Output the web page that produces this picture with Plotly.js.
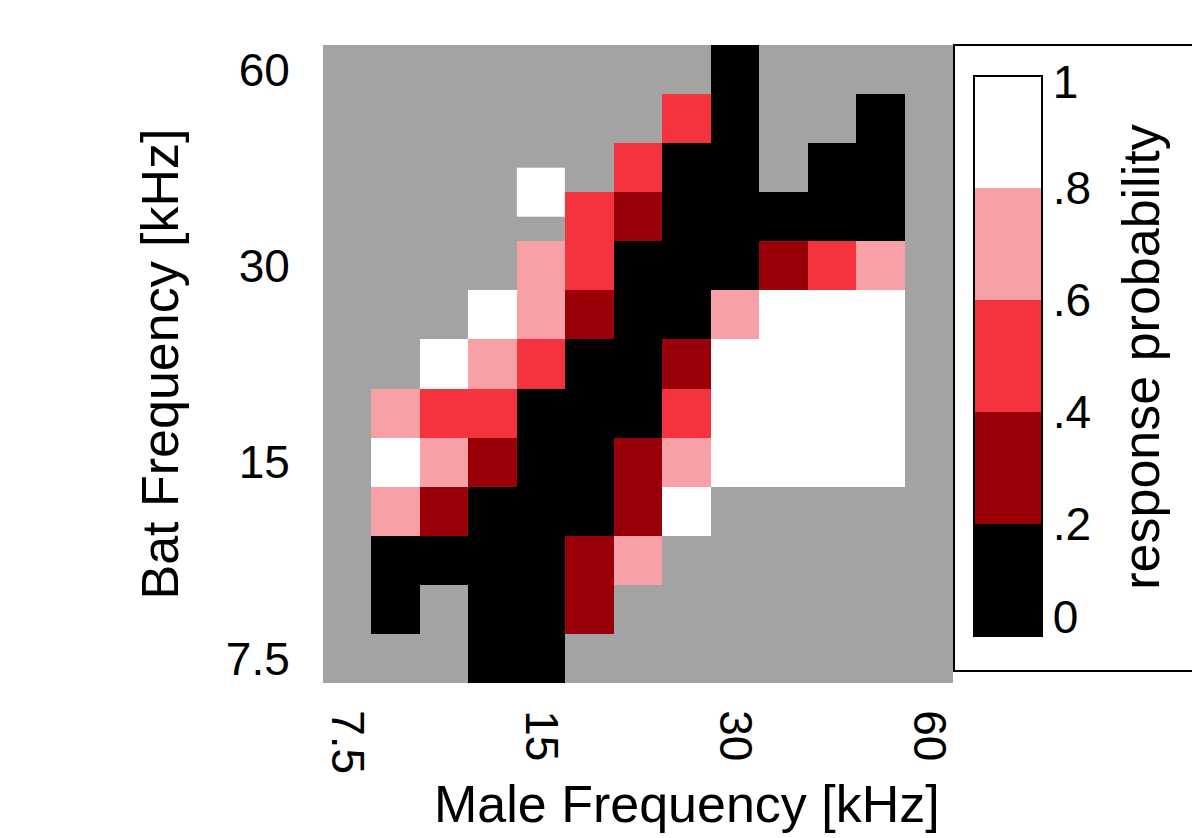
<!DOCTYPE html>
<html>
<head>
<meta charset="utf-8">
<script src="https://cdn.plot.ly/plotly-3.0.1.min.js"></script>
<style>html,body{margin:0;padding:0;background:#fff;}#chart{width:1192px;height:838px;}</style>
</head>
<body>
<div id="chart"></div>
<script>
// quarter-octave frequency bins (index 0 = 7.5 kHz, 4 = 15, 8 = 30, 12 = 60)
const maleBins = [0,1,2,3,4,5,6,7,8,9,10,11,12];
const batBins  = [0,1,2,3,4,5,6,7,8,9,10,11,12];
const xTickVals = [0,4,8,12];
const xTickText = ['7.5','15','30','60'];
const yTickVals = [0,4,8,12];
const yTickText = ['7.5','15','30','60'];
const n = null;
// response probability, rows = bat frequency bins (bottom -> top), columns = male frequency bins
const responseProb = [
  [n,   n,   n,   0.08,0.05,n,   n,   n,   n,   n,   n,   n,   n],
  [n,   0.12,n,   0.10,0.06,0.31,n,   n,   n,   n,   n,   n,   n],
  [n,   0.15,0.10,0.07,0.04,0.28,0.72,n,   n,   n,   n,   n,   n],
  [n,   0.70,0.33,0.09,0.05,0.06,0.30,0.92,n,   n,   n,   n,   n],
  [n,   0.95,0.68,0.35,0.11,0.07,0.27,0.74,0.96,0.97,0.95,0.93,n],
  [n,   0.66,0.52,0.47,0.13,0.04,0.08,0.55,0.98,0.96,0.94,0.95,n],
  [n,   n,   0.88,0.71,0.49,0.12,0.05,0.32,0.97,0.95,0.96,0.92,n],
  [n,   n,   n,   0.90,0.69,0.36,0.06,0.09,0.67,0.93,0.96,0.94,n],
  [n,   n,   n,   n,   0.73,0.53,0.10,0.04,0.06,0.34,0.48,0.70,n],
  [n,   n,   n,   n,   n,   0.45,0.26,0.07,0.03,0.08,0.11,0.14,n],
  [n,   n,   n,   n,   n,   n,   0.51,0.09,0.05,n,   0.12,0.16,n],
  [n,   n,   n,   n,   n,   n,   n,   0.44,0.06,n,   n,   0.18,n],
  [n,   n,   n,   n,   n,   n,   n,   n,   0.10,n,   n,   n,   n]
];
// one cell drawn half a bin higher in the original figure
const extraMale = [4];
const extraBat = [9.5];
const extraProb = [[0.91]];

const cbTickVals = [0.035,0.2,0.4,0.6,0.8,0.99];
const cbTickText = ['0','.2','.4','.6','.8','1'];

const colorscale = [
  [0,'#000000'],[0.2,'#000000'],
  [0.2,'#990008'],[0.4,'#990008'],
  [0.4,'#F5333F'],[0.6,'#F5333F'],
  [0.6,'#F7A1A6'],[0.8,'#F7A1A6'],
  [0.8,'#FFFFFF'],[1,'#FFFFFF']
];
const FONT = 'Liberation Sans, Arial, Helvetica, sans-serif';

const traces = [
  {
    type:'heatmap', x: maleBins, y: batBins, z: responseProb,
    zmin:0, zmax:1, colorscale: colorscale, zsmooth:false, hoverongaps:false,
    colorbar:{
      x:1.0333, xanchor:'left', xpad:0,
      y:0.5125, yanchor:'middle', ypad:0,
      len:560, lenmode:'pixels', thickness:68, thicknessmode:'pixels',
      outlinewidth:2, outlinecolor:'#000',
      tickmode:'array', tickvals: cbTickVals, ticktext: cbTickText,
      ticks:'', tickfont:{family:FONT, size:46, color:'#000'}
    }
  },
  {
    type:'heatmap', x: extraMale, y: extraBat, z: extraProb,
    zmin:0, zmax:1, colorscale: colorscale, zsmooth:false, showscale:false
  }
];

const layout = {
  width:1192, height:838,
  margin:{l:323, r:239, t:45, b:155},
  paper_bgcolor:'#fff', plot_bgcolor:'#A3A3A3',
  font:{family:FONT, color:'#000'},
  xaxis:{
    range:[-0.5,12.5], tickmode:'array', tickvals:xTickVals, ticktext:xTickText,
    tickangle:90, ticks:'outside', ticklen:17, tickcolor:'rgba(0,0,0,0)',
    tickfont:{family:FONT, size:46, color:'#000'},
    showgrid:false, zeroline:false, showline:false
  },
  yaxis:{
    range:[-0.5,12.5], tickmode:'array', tickvals:yTickVals, ticktext:yTickText,
    ticks:'outside', ticklen:23, tickcolor:'rgba(0,0,0,0)',
    tickfont:{family:FONT, size:46, color:'#000'},
    showgrid:false, zeroline:false, showline:false,
    title:{text:'Bat Frequency [kHz]', font:{family:FONT, size:52, color:'#000'}, standoff:30}
  },
  annotations:[
    {text:'Male Frequency [kHz]', xref:'paper', yref:'paper', x:0.578, y:-0.189,
     xanchor:'center', yanchor:'middle', showarrow:false,
     font:{family:FONT, size:52, color:'#000'}},
    {text:'response probability', xref:'paper', yref:'paper', x:1.298, y:0.511,
     xanchor:'center', yanchor:'middle', showarrow:false, textangle:-90,
     font:{family:FONT, size:52, color:'#000'}}
  ],
  shapes:[
    {type:'rect', xref:'paper', yref:'paper', x0:1.0016, x1:1.5, y0:0.0188, y1:1.0,
     line:{color:'#000', width:2}, fillcolor:'rgba(0,0,0,0)', layer:'below'}
  ]
};

Plotly.newPlot('chart', traces, layout, {displayModeBar:false, staticPlot:true});
</script>
</body>
</html>
